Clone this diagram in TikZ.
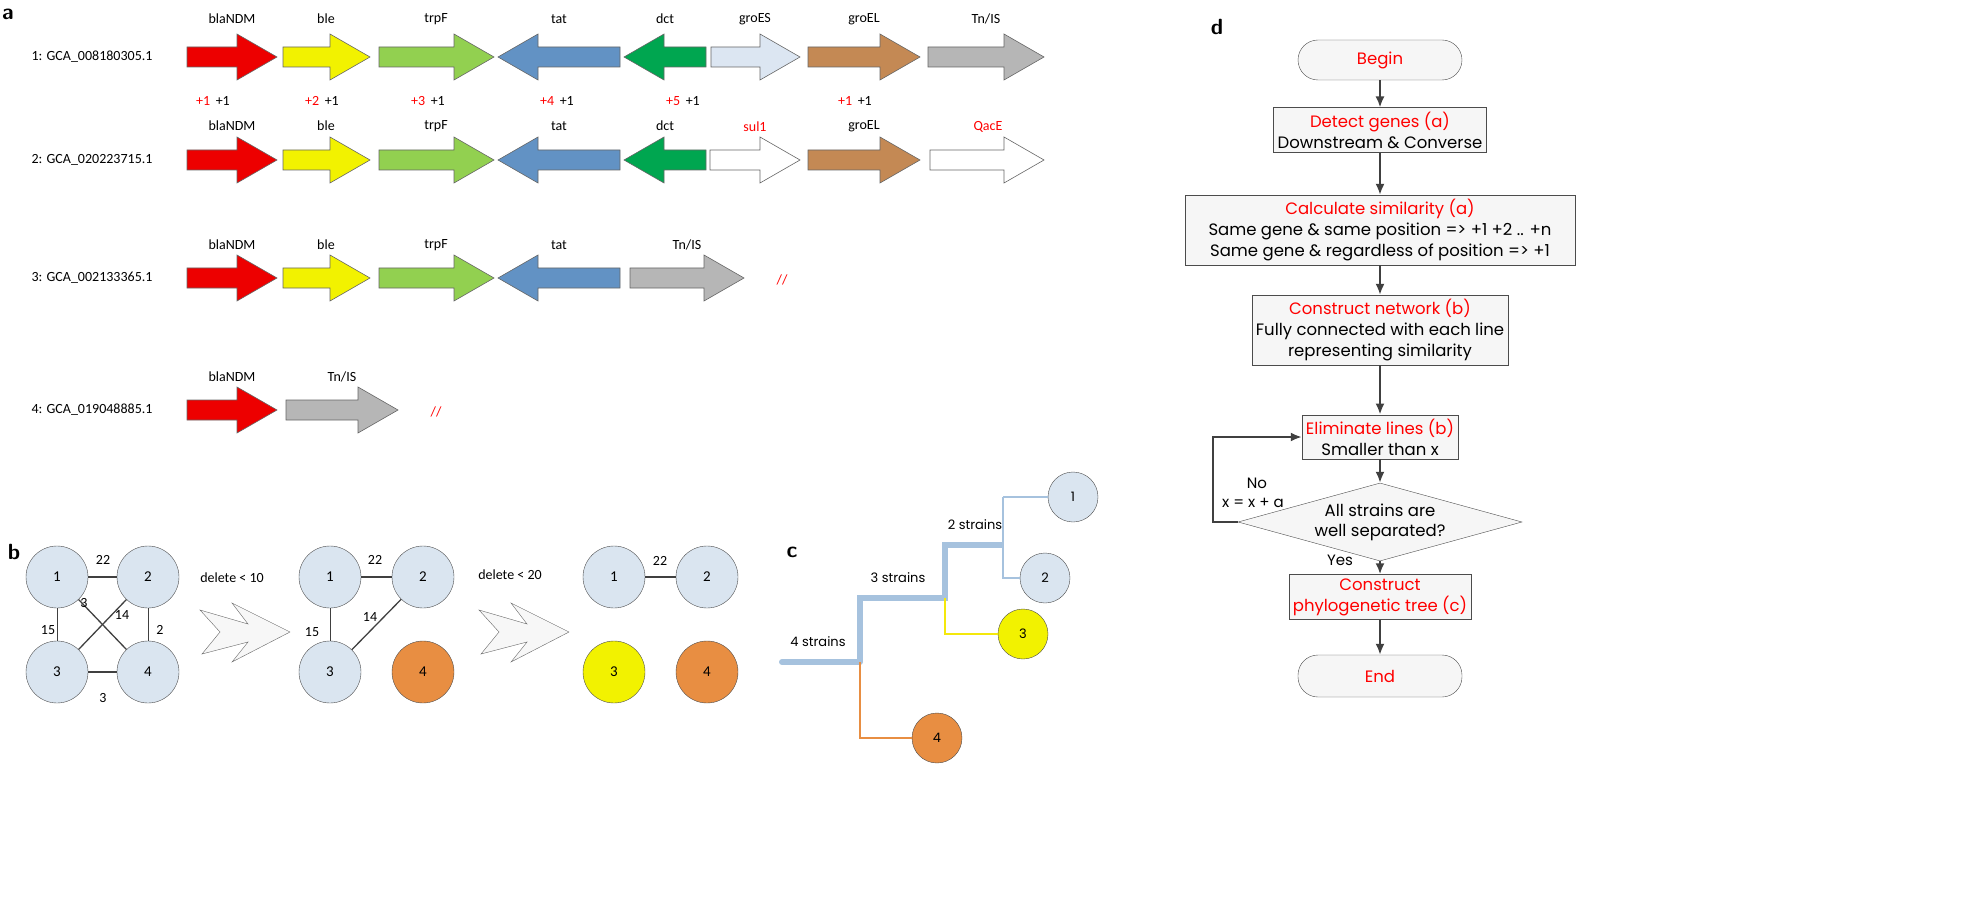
\documentclass[tikz,border=0pt]{standalone}
\usetikzlibrary{shapes.geometric,arrows.meta}
\usepackage{fontspec}
\setmainfont{Carlito}
\newfontfamily\flow{Poppins}
\begin{document}
\begin{tikzpicture}[x=1pt,y=-1pt,
 gene/.style={draw=black!60,line width=0.6pt},
 lab/.style={font=\fontsize{14}{16}\selectfont},
 rlab/.style={lab,text=red},
 gnode/.style={circle,draw=black!70,minimum size=62pt,inner sep=0pt,fill=nodeb,font=\fontsize{15}{17}\selectfont},
 tnode/.style={circle,draw=black!70,minimum size=50pt,inner sep=0pt,fill=nodeb,font=\flow\fontsize{13}{15}\selectfont},
 fbox/.style={draw=black!70,fill=gray!7,align=center,font=\flow\fontsize{16.5}{21}\selectfont,inner sep=4pt},
 farr/.style={-{Latex[length=11pt,width=9pt]},line width=2pt,draw=black!75},
 panel/.style={font=\sffamily\bfseries\fontsize{22}{24}\selectfont}]
\definecolor{nodeb}{RGB}{218,229,240}
\useasboundingbox (0,0) rectangle (1961,917);
\newcommand\RA[4]{\draw[gene,fill=#4] ({#1},{#3-10})--({#2-40},{#3-10})--({#2-40},{#3-23})--({#2},{#3})--({#2-40},{#3+23})--({#2-40},{#3+10})--({#1},{#3+10})--cycle;}
\newcommand\LA[4]{\draw[gene,fill=#4] ({#2},{#3-10})--({#1+40},{#3-10})--({#1+40},{#3-23})--({#1},{#3})--({#1+40},{#3+23})--({#1+40},{#3+10})--({#2},{#3+10})--cycle;}
\definecolor{gred}{RGB}{237,0,0}
\definecolor{gyel}{RGB}{242,242,0}
\definecolor{glime}{RGB}{146,208,80}
\definecolor{gblue}{RGB}{98,146,196}
\definecolor{ggreen}{RGB}{0,166,80}
\definecolor{glb}{RGB}{220,230,242}
\definecolor{gbrown}{RGB}{196,137,84}
\definecolor{ggray}{RGB}{182,182,182}
\definecolor{lblue}{RGB}{166,194,222}
\definecolor{orng}{RGB}{232,142,66}
% panel a
\node[panel] (pa) at (8,14) {a};
\foreach \y/\t in {57/1: GCA\_008180305.1,160/2: GCA\_020223715.1,278/3: GCA\_002133365.1,410/4: GCA\_019048885.1}
 \node[lab] at (92,\y) {\t};
% row 1
\RA{187}{277}{57}{gred}\RA{283}{370}{57}{gyel}\RA{379}{494}{57}{glime}\LA{498}{620}{57}{gblue}
\LA{624}{706}{57}{ggreen}\RA{711}{800}{57}{glb}\RA{808}{920}{57}{gbrown}\RA{928}{1044}{57}{ggray}
\foreach \x/\t in {232/blaNDM,326/ble,436/trpF,559/tat,665/dct,755/groES,864/groEL,986/{Tn/IS}}
 \node[lab] at (\x,19) {\t};
\foreach \x/\n in {213/1,322/2,428/3,557/4,683/5,855/1}
 \node[lab] at (\x,101) {\textcolor{red}{+\n}\, +1};
% row 2
\RA{187}{277}{160}{gred}\RA{283}{370}{160}{gyel}\RA{379}{494}{160}{glime}\LA{498}{620}{160}{gblue}
\LA{624}{706}{160}{ggreen}\RA{710}{800}{160}{white}\RA{808}{920}{160}{gbrown}\RA{930}{1044}{160}{white}
\foreach \x/\t in {232/blaNDM,326/ble,436/trpF,559/tat,665/dct,864/groEL}
 \node[lab] at (\x,126) {\t};
\node[rlab] at (755,127) {sul1};
\node[rlab] at (988,127) {QacE};
% row 3
\RA{187}{277}{278}{gred}\RA{283}{370}{278}{gyel}\RA{379}{494}{278}{glime}\LA{498}{620}{278}{gblue}\RA{630}{744}{278}{ggray}
\foreach \x/\t in {232/blaNDM,326/ble,436/trpF,559/tat,687/{Tn/IS}}
 \node[lab] at (\x,245) {\t};
\node[rlab] at (782,280) {//};
% row 4
\RA{187}{277}{410}{gred}\RA{286}{398}{410}{ggray}
\node[lab] at (232,377) {blaNDM};\node[lab] at (342,377) {Tn/IS};
\node[rlab] at (436,412) {//};
% panel b
\node[panel] (pb) at (14,552) {b};
\begin{scope}[every node/.append style={lab}]
\node[gnode] (b1) at (57,577) {1};\node[gnode] (b2) at (148,577) {2};
\node[gnode] (b3) at (57,672) {3};\node[gnode] (b4) at (148,672) {4};
\draw[line width=2pt,black!75] (b1)--(b2);\draw[line width=2pt,black!75] (b3)--(b4);
\draw[line width=1pt,black!75] (b1)--(b3);\draw[line width=1pt,black!75] (b2)--(b4);
\draw[line width=1.3pt,black!75] (b1)--(b4);\draw[line width=1.3pt,black!75] (b3)--(b2);
\node at (103,560) {22};\node at (84,603) {3};\node at (122,615) {14};
\node at (48,630) {15};\node at (160,630) {2};\node at (103,698) {3};
\node at (232,578) {delete < 10};
\node[gnode] (c1) at (330,577) {1};\node[gnode] (c2) at (423,577) {2};
\node[gnode] (c3) at (330,672) {3};\node[gnode,fill=orng] (c4) at (423,672) {4};
\draw[line width=2pt,black!75] (c1)--(c2);\draw[line width=1pt,black!75] (c1)--(c3);
\draw[line width=1.3pt,black!75] (c3)--(c2);
\node at (375,560) {22};\node at (370,617) {14};\node at (312,632) {15};
\node at (510,575) {delete < 20};
\node[gnode] (d1) at (614,577) {1};\node[gnode] (d2) at (707,577) {2};
\node[gnode,fill=gyel] (d3) at (614,672) {3};\node[gnode,fill=orng] (d4) at (707,672) {4};
\draw[line width=2pt,black!75] (d1)--(d2);
\node at (660,561) {22};
\end{scope}
\foreach \s in {0,279}
 \draw[draw=black!60,fill=gray!6] (200+\s,610)--(248+\s,624)--(232+\s,603)--(290+\s,632)--(232+\s,662)--(248+\s,642)--(202+\s,654)--(220+\s,632)--cycle;
% panel c
\node[panel] (pc) at (792,552) {c};
\node[tnode] (t1) at (1073,497) {1};\node[tnode] (t2) at (1045,578) {2};
\node[tnode,fill=gyel] (t3) at (1023,634) {3};\node[tnode,fill=orng] (t4) at (937,738) {4};
\coordinate (r0) at (782,662);\coordinate (r1) at (860,662);\coordinate (r2) at (945,598);\coordinate (r3) at (1003,545);
\draw[lblue,line width=6pt,line cap=round] (r0)--(r1);
\draw[lblue,line width=6pt] (r1)--(r1|-r2)--(r2)--(r2|-r3)--(r3);
\draw[lblue,line width=1.5pt] (r3|-t1)--(r3|-t2)--(t2);\draw[lblue,line width=1.5pt] (r3|-t1)--(t1);
\draw[yellow!95!black,line width=1.5pt] (r2)--(r2|-t3)--(t3);
\draw[orng,line width=1.5pt] (r1)--(r1|-t4)--(t4);
\node[font=\flow\fontsize{13}{15}\selectfont] at (818,642) {4 strains};
\node[font=\flow\fontsize{13}{15}\selectfont] at (898,578) {3 strains};
\node[font=\flow\fontsize{13}{15}\selectfont] at (975,525) {2 strains};
% panel d
\node[panel] (pd) at (1217,27) {d};
\node[fbox,rounded corners=20pt,minimum width=164pt,minimum height=40pt,text=red] (f0) at (1380,60) {Begin};
\node[fbox,minimum width=175pt] (f1) at (1380,130) {\textcolor{red}{Detect genes (a)}\\Downstream \& Converse};
\node[fbox,minimum width=390pt] (f2) at (1380,230) {\textcolor{red}{Calculate similarity (a)}\\Same gene \& same position => +1 +2 .. +n\\Same gene \& regardless of position => +1};
\node[fbox,minimum width=244pt] (f3) at (1380,330) {\textcolor{red}{Construct network (b)}\\Fully connected with each line\\representing similarity};
\node[fbox,minimum width=130pt] (f4) at (1380,437) {\textcolor{red}{Eliminate lines (b)}\\Smaller than x};
\node[draw=black!70,fill=gray!7,diamond,aspect=3.7,inner sep=0pt,minimum width=284pt,minimum height=78pt,align=center,font=\flow\fontsize{16.5}{20}\selectfont] (f5) at (1380,522) {All strains are\\well separated?};
\node[fbox,minimum width=140pt,text=red] (f6) at (1380,597) {Construct\\phylogenetic tree (c)};
\node[fbox,rounded corners=20pt,minimum width=164pt,minimum height=42pt,text=red] (f7) at (1380,676) {End};
\draw[farr] (f0)--(f1);\draw[farr] (f1)--(f2);\draw[farr] (f2)--(f3);\draw[farr] (f3)--(f4);
\draw[farr] (f4)--(f5);\draw[farr] (f5)--(f6);\draw[farr] (f6)--(f7);
\coordinate (lp) at (1213,522);
\draw[farr] (f5.west)--(lp)--(lp|-f4.west)--(f4.west);
\node[font=\flow\fontsize{15}{17}\selectfont] at (1257,483) {No};
\node[font=\flow\fontsize{15}{17}\selectfont] at (1253,503) {x = x + a};
\node[font=\flow\fontsize{15}{17}\selectfont] at (1340,560) {Yes};
\end{tikzpicture}
\end{document}
